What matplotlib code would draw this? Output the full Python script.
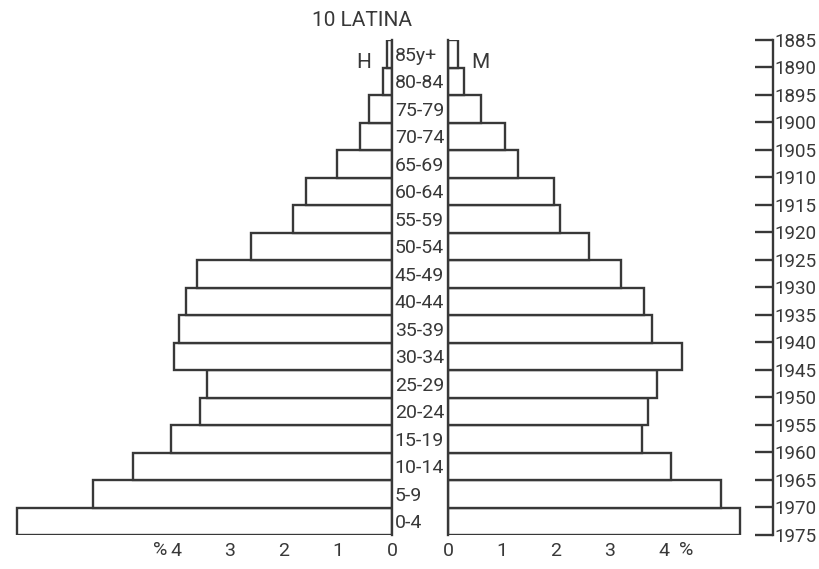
import matplotlib.pyplot as plt

# Pirámide de población, provincia 10 (Latina)
edades = ["0-4", "5-9", "10-14", "15-19", "20-24", "25-29", "30-34", "35-39",
          "40-44", "45-49", "50-54", "55-59", "60-64", "65-69", "70-74",
          "75-79", "80-84", "85y+"]
hombres = [6.94, 5.54, 4.80, 4.09, 3.56, 3.43, 4.04, 3.94, 3.81, 3.61,
           2.61, 1.83, 1.59, 1.02, 0.59, 0.43, 0.17, 0.09]
mujeres = [5.41, 5.06, 4.13, 3.59, 3.70, 3.87, 4.33, 3.78, 3.63, 3.20,
           2.61, 2.07, 1.96, 1.30, 1.06, 0.61, 0.30, 0.18]
anios = [1975, 1970, 1965, 1960, 1955, 1950, 1945, 1940, 1935, 1930,
         1925, 1920, 1915, 1910, 1905, 1900, 1895, 1890, 1885]
marcas = [0, 1, 2, 3, 4]

plt.rcParams['font.family'] = ['Roboto', 'DejaVu Sans']

tinta = '#383838'
lw = 1.7
W, H = 820, 569
fig = plt.figure(figsize=(W / 100, H / 100), dpi=100)

# filas de la pirámide: de y=40 a y=535 px
abajo = 1 - 535 / H
alto = 495 / H
px = 54.0  # píxeles por 1 %

ax_h = fig.add_axes([10 / W, abajo, 382 / W, alto])
ax_m = fig.add_axes([448 / W, abajo, 312 / W, alto])

y = list(range(len(edades)))
ax_h.barh(y, hombres, height=1.0, color='white', edgecolor=tinta, linewidth=lw)
ax_m.barh(y, mujeres, height=1.0, color='white', edgecolor=tinta, linewidth=lw)

ax_h.set_xlim(382 / px, 0)
ax_m.set_xlim(0, 312 / px)

for ax in (ax_h, ax_m):
    ax.set_ylim(-0.5, len(edades) - 0.5)
    for s in ax.spines.values():
        s.set_visible(False)
    ax.set_xticks(marcas)
    ax.set_xticklabels([str(m) for m in marcas])
    ax.tick_params(axis='x', length=0, pad=5, labelsize=14, labelcolor=tinta)

ax_h.spines['right'].set_visible(True)
ax_h.spines['right'].set_color(tinta)
ax_h.spines['right'].set_linewidth(lw)
ax_m.spines['left'].set_visible(True)
ax_m.spines['left'].set_color(tinta)
ax_m.spines['left'].set_linewidth(lw)

# grupos de edad en la columna central
ax_h.yaxis.tick_right()
ax_h.set_yticks(y)
ax_h.set_yticklabels(edades)
ax_h.tick_params(axis='y', length=0, pad=2, labelsize=14, labelcolor=tinta)
ax_m.set_yticks([])

# signo % junto al 4 de cada lado
ax_h.text(4.3, -0.012, "%", ha='center', va='top', fontsize=14, color=tinta,
          transform=ax_h.get_xaxis_transform())
ax_m.text(4.42, -0.012, "%", ha='center', va='top', fontsize=14, color=tinta,
          transform=ax_m.get_xaxis_transform())

# escala de años de nacimiento
ax_a = fig.add_axes([773 / W, abajo, 0.0001, alto])
ax_a.set_ylim(1975, 1885)
ax_a.set_xticks([])
for lado in ('top', 'bottom', 'right'):
    ax_a.spines[lado].set_visible(False)
ax_a.spines['left'].set_color(tinta)
ax_a.spines['left'].set_linewidth(lw)
ax_a.set_yticks(anios)
ax_a.set_yticklabels([str(a) for a in anios])
ax_a.tick_params(axis='y', left=True, right=False, labelleft=False,
                 labelright=True, direction='out', length=13, width=lw,
                 color=tinta, pad=-12, labelsize=13.5, labelcolor=tinta)

fig.text(362 / W, 1 - 21 / H, "10 LATINA", ha='center', va='center',
         fontsize=15, color=tinta)
fig.text(364 / W, 1 - 62 / H, "H", ha='center', va='center', fontsize=15,
         color=tinta)
fig.text(480 / W, 1 - 62 / H, "M", ha='center', va='center', fontsize=15,
         color=tinta)

fig.savefig("out.png", dpi=100, facecolor='white')
